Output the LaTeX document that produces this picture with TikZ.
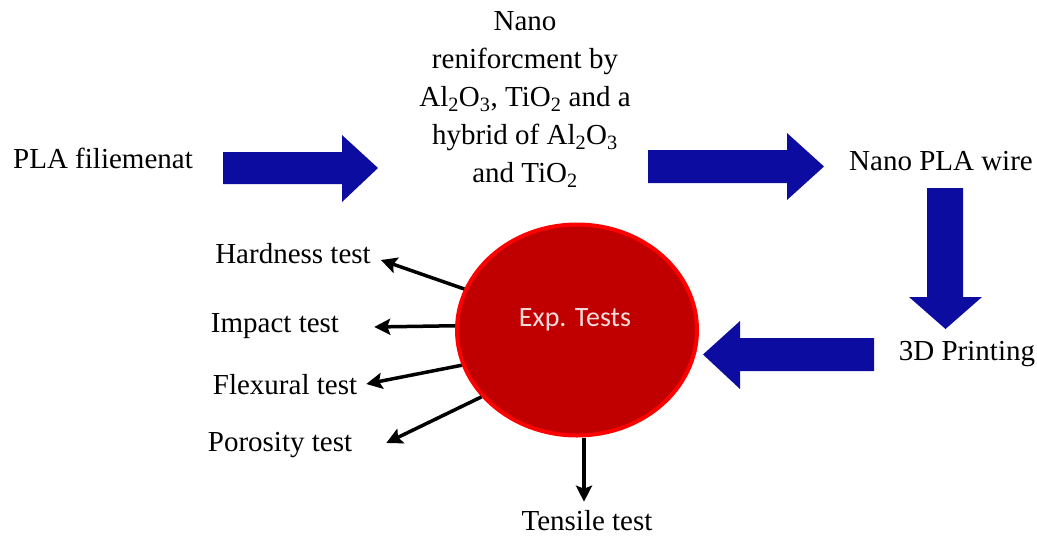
\documentclass[tikz,border=0pt]{standalone}
\usepackage{fontspec}
\setmainfont{Liberation Serif}
\newfontfamily\calib{Carlito}
\newfontfamily\timesf{Liberation Serif}
\usetikzlibrary{arrows.meta,shapes.geometric,calc}
\definecolor{barrow}{RGB}{12,12,160}
\definecolor{cfill}{RGB}{192,0,0}
\definecolor{cedge}{RGB}{255,0,0}
\definecolor{ctext}{RGB}{242,220,219}
\begin{document}
\begin{tikzpicture}[x=1pt,y=-1pt,
  serif29/.style={font=\timesf\fontsize{29}{38}\selectfont},
  lbl/.style={serif29, inner sep=0pt, anchor=base},
  blockarrow/.style={fill=barrow, draw=none},
  testarrow/.style={draw=black, line width=3.5pt, -{Stealth[length=16pt,width=16pt,inset=3pt]}},
]
\useasboundingbox (0,0) rectangle (1037,536);

% text nodes
\node[lbl] (pla) at (103,168) {PLA filiemenat};
\node[serif29, inner sep=0pt, anchor=north, align=center] (nano) at (525,11)
  {Nano\\reniforcment by\\Al\textsubscript{2}O\textsubscript{3}, TiO\textsubscript{2} and a\\hybrid of Al\textsubscript{2}O\textsubscript{3}\\and TiO\textsubscript{2}};
\node[lbl] (wire) at (941,170) {Nano PLA wire};
\node[lbl] (print) at (967,360) {3D Printing};
\node[lbl] (hard) at (293,263) {Hardness test};
\node[lbl] (imp) at (275,332) {Impact test};
\node[lbl] (flex) at (285,394) {Flexural test};
\node[lbl] (por) at (280,451) {Porosity test};
\node[lbl] (tens) at (587,530) {Tensile test};

% block arrows
\fill[blockarrow] (223,152) -- (342,152) -- (342,135) -- (378,168) -- (342,202) -- (342,184) -- (223,184) -- cycle;
\fill[blockarrow] (648,150) -- (787,150) -- (787,133) -- (824,166.5) -- (787,200) -- (787,183) -- (648,183) -- cycle;
\fill[blockarrow] (927,188) -- (963,188) -- (963,297) -- (982,297) -- (945.5,329) -- (909,297) -- (927,297) -- cycle;
\fill[blockarrow] (874,338) -- (740,338) -- (740,321) -- (703,354.5) -- (740,389) -- (740,371) -- (874,371) -- cycle;

% experimental tests
\node[ellipse, draw=cedge, fill=cfill, line width=4pt, minimum width=240pt, minimum height=211pt, inner sep=0pt] (exp) at (577,330) {};
\node[font=\calib\fontsize{28}{34}\selectfont, text=ctext, inner sep=0pt, anchor=base] (explbl) at (575,326) {Exp. Tests};

\draw[testarrow] (exp.160) -- ($(hard.base east)+(10,-3)$);
\draw[testarrow] (exp.178) -- ($(imp.base east)+(35,-5)$);
\draw[testarrow] (exp.197) -- ($(flex.base east)+(9,-10)$);
\draw[testarrow] (exp.215) -- ($(por.base east)+(34,-8)$);
\coordinate (tt) at ($(tens.north)+(-3,-8)$);
\draw[testarrow] (exp.south -| tt) -- (tt);
\end{tikzpicture}
\end{document}
